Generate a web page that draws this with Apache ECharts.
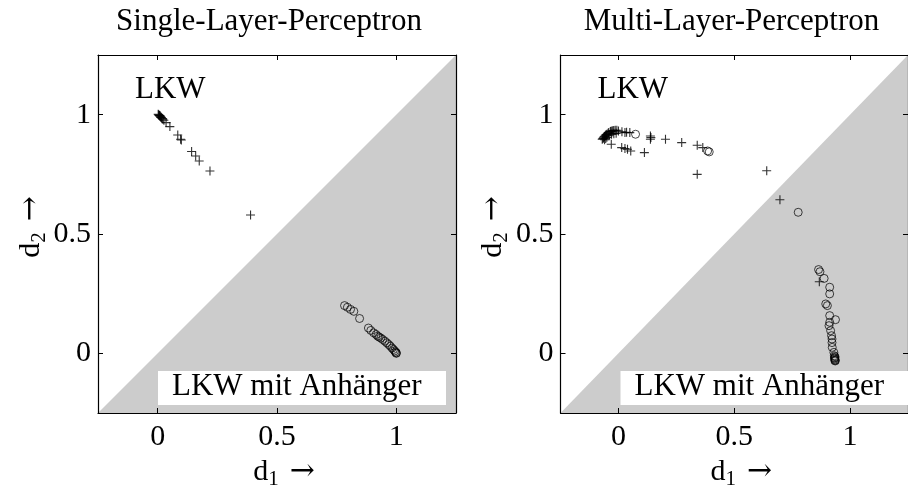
<!DOCTYPE html>
<html>
<head>
<meta charset="utf-8">
<script src="https://cdn.jsdelivr.net/npm/echarts@6/dist/echarts.min.js"></script>
<style>
  html, body { margin: 0; padding: 0; background: #fff; }
  #chart { width: 908px; height: 501px; }
</style>
</head>
<body>
<div id="chart"></div>
<script>
// axis range and ticks (same for both panels)
const axisMin = -0.25;
const axisMax = 1.25;
const tickValues = [0, 0.5, 1];
const diagonal = [[-0.25, -0.25], [1.25, 1.25]];

const panelTitles = ["Single-Layer-Perceptron", "Multi-Layer-Perceptron"];
const classLabels = ["LKW", "LKW mit Anhänger"];

// Single-Layer-Perceptron: "+" = LKW, "o" = LKW mit Anhänger
const slpPlusX = [0.002, 0.004, 0.006, 0.007, 0.009, 0.01, 0.0125, 0.014, 0.016, 0.019, 0.022, 0.026, 0.035, 0.051, 0.084, 0.096, 0.099, 0.142, 0.159, 0.174, 0.219, 0.389];
const slpPlusY = [1.002, 1.0, 0.998, 0.997, 0.995, 0.994, 0.99, 0.989, 0.987, 0.984, 0.981, 0.977, 0.967, 0.95, 0.915, 0.897, 0.894, 0.846, 0.827, 0.806, 0.764, 0.58];
const slpCircX = [0.783, 0.795, 0.808, 0.822, 0.846, 0.883, 0.893, 0.905, 0.915, 0.922, 0.928, 0.935, 0.943, 0.952, 0.96, 0.968, 0.975, 0.982, 0.988, 0.993, 0.997, 1.0, 1.0];
const slpCircY = [0.2, 0.193, 0.184, 0.176, 0.146, 0.106, 0.096, 0.086, 0.079, 0.072, 0.068, 0.064, 0.058, 0.051, 0.044, 0.037, 0.03, 0.022, 0.016, 0.01, 0.005, 0.002, 0.0];

// Multi-Layer-Perceptron
const mlpPlusX = [-0.07, -0.067, -0.065, -0.062, -0.06, -0.056, -0.053, -0.05, -0.045, -0.042, -0.035, -0.032, -0.028, -0.024, -0.02, -0.014, -0.007, 0.0, -0.06, -0.055, -0.05, -0.04, -0.03, -0.02, -0.01, 0.015, 0.028, 0.035, 0.049,
  -0.031, 0.014, 0.028, 0.039, 0.053, 0.112, 0.138, 0.138, 0.14, 0.203, 0.273, 0.34, 0.364, 0.34, 0.64, 0.697, 0.867];
const mlpPlusY = [0.897, 0.9, 0.903, 0.907, 0.91, 0.914, 0.916, 0.918, 0.922, 0.925, 0.929, 0.93, 0.932, 0.933, 0.934, 0.935, 0.935, 0.932, 0.895, 0.9, 0.905, 0.912, 0.918, 0.92, 0.922, 0.928, 0.925, 0.926, 0.925,
  0.876, 0.862, 0.858, 0.855, 0.848, 0.841, 0.911, 0.897, 0.904, 0.897, 0.883, 0.872, 0.862, 0.75, 0.765, 0.644, 0.3];
const mlpCircX = [0.074, 0.385, 0.392, 0.776, 0.864, 0.87, 0.888, 0.912, 0.912, 0.895, 0.902, 0.912, 0.937, 0.912, 0.909, 0.916, 0.92, 0.922, 0.922, 0.923, 0.93, 0.932, 0.934, 0.934, 0.936, 0.934, 0.935, 0.933, 0.936];
const mlpCircY = [0.918, 0.848, 0.844, 0.591, 0.351, 0.342, 0.314, 0.277, 0.249, 0.207, 0.2, 0.158, 0.141, 0.13, 0.116, 0.095, 0.074, 0.06, 0.045, 0.025, 0.004, -0.01, -0.018, -0.024, -0.028, -0.03, -0.014, -0.02, -0.032];

const serif = "Liberation Serif";
const plusSymbol = "path://M4,0 h1.1 v4 h3.9 v1.1 h-3.9 v3.9 h-1.1 v-3.9 h-4 v-1.1 h4 z";

function pairs(xs, ys) {
    return xs.map((x, i) => [x, ys[i]]);
}

const grids = [
    { left: 98, top: 55, width: 358, height: 358 },
    { left: 560.5, top: 55, width: 358, height: 358 }
];

const nameRich = {
    d: { fontFamily: serif, fontSize: 30, color: "#000", padding: [0, 0, 0, 14] },
    s: { fontFamily: serif, fontSize: 21, color: "#000", padding: [16, 0, 0, 0] },
    a: { fontFamily: "DejaVu Serif", fontSize: 30, color: "#000", padding: [0, 0, 0, 11] }
};

function frameAxis(gridIndex, position, isX) {
    const main = position === "bottom" || position === "left";
    const ax = {
        gridIndex,
        type: "value",
        position,
        min: axisMin,
        max: axisMax,
        z: 5,
        axisLine: { onZero: false, lineStyle: { color: "#000", width: 1.2 } },
        axisTick: { inside: true, length: 5, customValues: tickValues, lineStyle: { color: "#000" } },
        axisLabel: main ? {
            customValues: tickValues,
            fontFamily: serif,
            fontSize: 30,
            color: "#000",
            margin: isX ? 9 : 7
        } : { show: false },
        splitLine: { show: false }
    };
    if (main) {
        ax.nameLocation = "middle";
        ax.nameTextStyle = { rich: nameRich };
        if (isX) {
            ax.name = "{d|d}{s|1}{a|\u2192}";
            ax.nameGap = 38;
        } else {
            ax.name = "{d|d}{s|2}{a|\u2192}";
            ax.nameRotate = 90;
            ax.nameGap = 31;
        }
    }
    return ax;
}

const xAxes = [], yAxes = [];
grids.forEach((g, i) => {
    xAxes.push(frameAxis(i, "bottom", true), frameAxis(i, "top", true));
    yAxes.push(frameAxis(i, "left", false), frameAxis(i, "right", false));
});

function panelSeries(i, plus, circ) {
    return [
        {
            type: "line",
            xAxisIndex: i * 2,
            yAxisIndex: i * 2,
            data: diagonal,
            symbol: "none",
            lineStyle: { width: 0 },
            areaStyle: { color: "#cccccc", opacity: 1, origin: "start" },
            z: 1,
            silent: true
        },
        {
            type: "scatter",
            xAxisIndex: i * 2,
            yAxisIndex: i * 2,
            data: plus,
            symbol: plusSymbol,
            symbolSize: 9,
            itemStyle: { color: "#000" },
            z: 3
        },
        {
            type: "scatter",
            xAxisIndex: i * 2,
            yAxisIndex: i * 2,
            data: circ,
            symbol: "circle",
            symbolSize: 8,
            itemStyle: { color: "rgba(0,0,0,0)", borderColor: "#000", borderWidth: 0.9 },
            z: 3
        }
    ];
}

const series = [
    ...panelSeries(0, pairs(slpPlusX, slpPlusY), pairs(slpCircX, slpCircY)),
    ...panelSeries(1, pairs(mlpPlusX, mlpPlusY), pairs(mlpCircX, mlpCircY))
];

const graphic = [];
grids.forEach((g, i) => {
    const cx = g.left + g.width / 2 - 8;
    graphic.push({
        type: "text", x: cx, y: 22, z: 10,
        style: { text: panelTitles[i], font: "31px " + serif, fill: "#000", align: "center", verticalAlign: "middle" }
    });
    graphic.push({
        type: "text", x: g.left + 37, y: 90, z: 10,
        style: { text: classLabels[0], font: "31px " + serif, fill: "#000", align: "left", verticalAlign: "middle" }
    });
    graphic.push({
        type: "rect", z: 10,
        shape: { x: g.left + 60, y: 371, width: 288, height: 34 },
        style: { fill: "#fff" }
    });
    graphic.push({
        type: "text", x: g.left + 74, y: 387, z: 11,
        style: { text: classLabels[1], font: "31px " + serif, fill: "#000", align: "left", verticalAlign: "middle" }
    });
});

const chart = echarts.init(document.getElementById("chart"));
chart.setOption({
    animation: false,
    backgroundColor: "#fff",
    grid: grids,
    xAxis: xAxes,
    yAxis: yAxes,
    series,
    graphic
});
</script>
</body>
</html>
